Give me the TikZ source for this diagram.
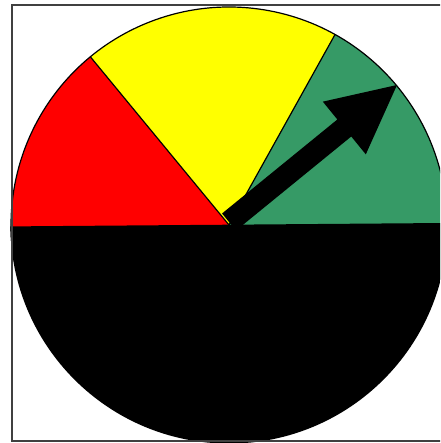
\documentclass[tikz,border=0pt]{standalone}
\usetikzlibrary{calc}
\definecolor{dialgreen}{RGB}{54,154,102}
\definecolor{dialyellow}{RGB}{255,255,0}
\definecolor{dialred}{RGB}{255,0,0}
\begin{document}
\begin{tikzpicture}[x=1pt,y=1pt,
  edge/.style={draw=black,line width=1.2pt,line join=round}]
\useasboundingbox (0,0) rectangle (440,443);
\clip (0,0) rectangle (440,443);
\fill[white] (0,0) rectangle (440,443);
\coordinate (C) at (229,218);
\def\R{218}
% sectors
\fill[dialred] (C) -- ++(129.5:\R) arc[start angle=129.5,end angle=200,radius=\R] -- cycle;
\fill[dialyellow] (C) -- ++(60.9:\R) arc[start angle=60.9,end angle=129.5,radius=\R] -- cycle;
\fill[dialgreen] (C) -- ++(-20:\R) arc[start angle=-20,end angle=60.9,radius=\R] -- cycle;
\draw[edge] ($(C)+(-5:\R)$) arc[start angle=-5,end angle=185,radius=\R];
\draw[edge] (C) -- ++(129.5:\R);
\draw[edge] (C) -- ++(60.9:\R);
% black lower part
\begin{scope}
  \clip (C) circle[radius=\R+0.6];
  \fill[black] (0,216.5) -- (446,220) -- (446,-5) -- (0,-5) -- cycle;
\end{scope}
% pointer arrow
\fill[black] (222.05,229.52) -- (337.35,323.5) -- (322.8,341.35) -- (397,358)
  -- (365.8,288.65) -- (351.25,306.5) -- (235.95,212.48) -- cycle;
% frame
\draw[black!75,line width=1.5pt] (12,438) rectangle (443,2);
\end{tikzpicture}
\end{document}
